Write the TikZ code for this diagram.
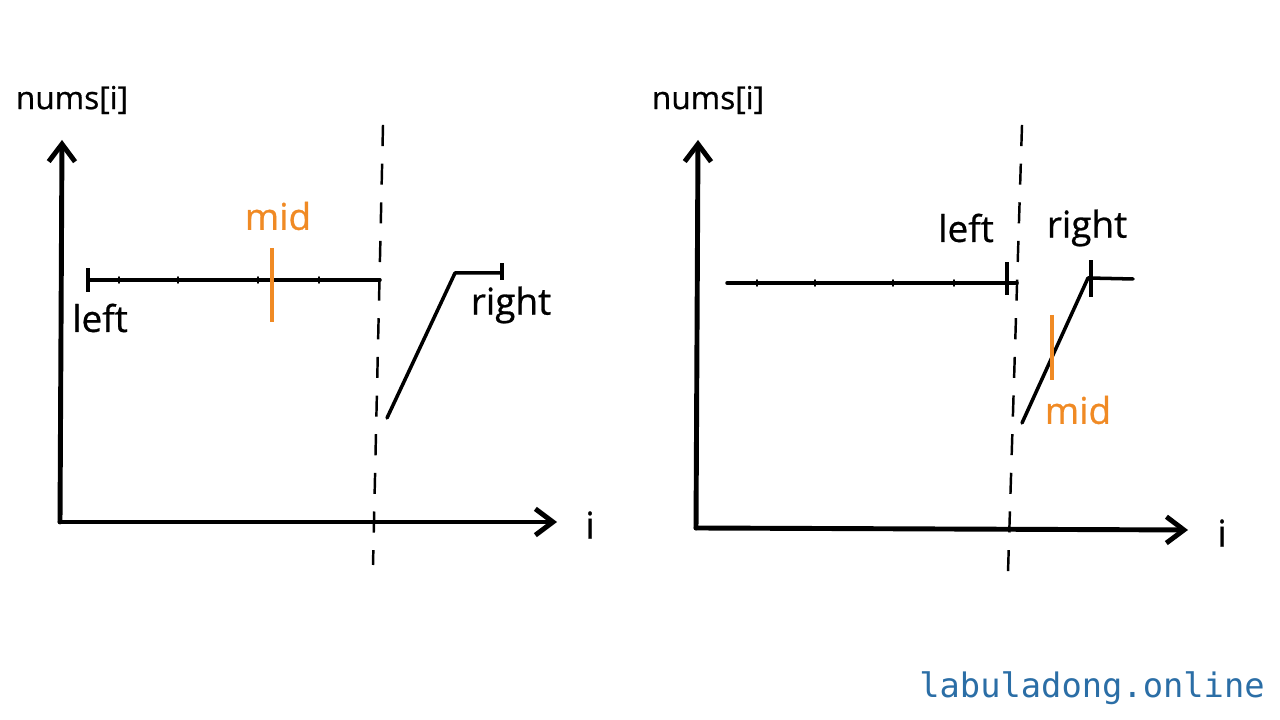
\documentclass[tikz,border=0pt]{standalone}
\usepackage{fontspec}
\setmainfont{Open Sans}
\newfontfamily\lblfont{Open Sans}[FakeBold=0.7]
\newfontfamily\monofont{DejaVu Sans Mono}
\usepackage{xcolor}
\usepackage{tikz}
\usetikzlibrary{positioning}
\usetikzlibrary{arrows.meta}

\definecolor{midorange}{HTML}{F08A24}
\definecolor{siteblue}{HTML}{2B6EA6}

\tikzset{
    axis/.style={line width=1.4pt, line cap=round, -{Straight Barb[length=5pt,width=7.5pt,line width=1.4pt]}},
    seg/.style={line width=1pt, line cap=round},
    bar/.style={line width=1.3pt},
    split/.style={line width=0.7pt, dash pattern=on 6pt off 5pt},
    midbar/.style={line width=1.1pt, midorange},
    lbl/.style={font=\lblfont\fontsize{10.5}{12}\selectfont, inner sep=0pt},
    axlbl/.style={font=\lblfont\fontsize{9}{11}\selectfont, inner sep=0pt}
}

\begin{document}
\begin{tikzpicture}
    \useasboundingbox (0,0) rectangle (12.8,7.2);

    % ---------- Left plot ----------
    % Axes
    \coordinate (oA) at (0.60,1.98);
    \coordinate (yA) at (0.62,5.80);
    \coordinate (xA) at (5.57,1.98);
    \draw[axis] (oA) -- (yA);
    \draw[axis] (oA) -- (xA);
    \node[axlbl] (numsA) at (0.72,6.20) {nums[i]};
    \node[lbl] (iA) at (5.90,1.95) {i};

    % Dashed split line
    \coordinate (sAtop) at (3.83,5.95);
    \coordinate (sAbot) at (3.73,1.55);
    \draw[split] (sAtop) -- (sAbot);

    % Flat part with left end
    \coordinate (leftA) at (0.88,4.40);
    \coordinate (flatAend) at (3.80,4.40);
    \draw[seg] (leftA) -- (flatAend);
    \foreach \x in {1.19,1.78,2.58,3.19}
        \draw[seg, line width=0.5pt] (\x,4.37) -- (\x,4.43);
    \draw[bar] ([yshift=-1.2mm]leftA) -- ([yshift=1.2mm]leftA);
    \node[lbl] (leftlblA) at (1.00,4.02) {left};

    % Rising part with right end
    \coordinate (riseA) at (3.87,3.02);
    \coordinate (kneeA) at (4.55,4.47);
    \coordinate (rightA) at (5.02,4.47);
    \draw[seg, line join=round] (riseA) -- (kneeA) -- (rightA);
    \draw[bar] ([yshift=-0.7mm]rightA) -- ([yshift=1mm]rightA);
    \node[lbl] (rightlblA) at (5.11,4.15) {right};

    % mid
    \coordinate (midAtop) at (2.72,4.72);
    \coordinate (midAbot) at (2.72,3.98);
    \draw[midbar] (midAtop) -- (midAbot);
    \node[lbl, text=midorange] (midlblA) at (2.78,5.04) {mid};

    % ---------- Right plot ----------
    % Axes
    \coordinate (oB) at (6.96,1.92);
    \coordinate (yB) at (6.98,5.80);
    \coordinate (xB) at (11.88,1.90);
    \draw[axis] (oB) -- (yB);
    \draw[axis] (oB) -- (xB);
    \node[axlbl] (numsB) at (7.08,6.20) {nums[i]};
    \node[lbl] (iB) at (12.22,1.87) {i};

    % Dashed split line
    \coordinate (sBtop) at (10.22,5.95);
    \coordinate (sBbot) at (10.08,1.48);
    \draw[split] (sBtop) -- (sBbot);

    % Flat part with left end
    \coordinate (flatB) at (7.27,4.37);
    \coordinate (leftB) at (10.07,4.37);
    \draw[seg] (flatB) -- ([xshift=1mm]leftB);
    \foreach \x in {7.57,8.15,8.93,9.54}
        \draw[seg, line width=0.5pt] (\x,4.34) -- (\x,4.40);
    \draw[bar] ([yshift=-1.2mm]leftB) -- ([yshift=2.1mm]leftB);
    \node[lbl] (leftlblB) at (9.66,4.92) {left};

    % Rising part with right end
    \coordinate (riseB) at (10.22,2.97);
    \coordinate (kneeB) at (10.88,4.42);
    \coordinate (flatBend) at (11.33,4.41);
    \coordinate (rightB) at (10.91,4.41);
    \draw[seg, line join=round] (riseB) -- (kneeB) -- (flatBend);
    \draw[bar] ([yshift=-1.8mm]rightB) -- ([yshift=1.9mm]rightB);
    \node[lbl] (rightlblB) at (10.87,4.92) {right};

    % mid
    \coordinate (midBtop) at (10.52,4.05);
    \coordinate (midBbot) at (10.52,3.40);
    \draw[midbar] (midBtop) -- (midBbot);
    \node[lbl, text=midorange] (midlblB) at (10.78,3.10) {mid};

    % Footer
    \node[font=\monofont\fontsize{9.6}{11}\selectfont, text=siteblue, inner sep=0pt] (site) at (10.92,0.32) {labuladong.online};
\end{tikzpicture}
\end{document}
